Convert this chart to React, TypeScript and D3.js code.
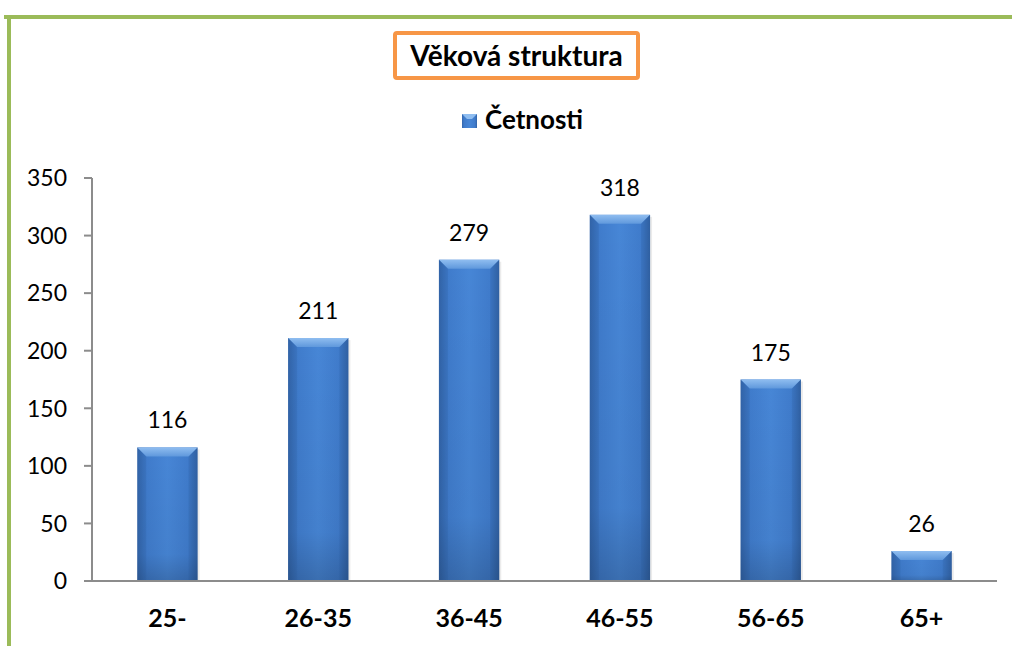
import React from "react";
import * as d3 from "d3";

const categories = ["25-", "26-35", "36-45", "46-55", "56-65", "65+"];
const values = [116, 211, 279, 318, 175, 26];
const yTicks = [0, 50, 100, 150, 200, 250, 300, 350];
const title = "Věková struktura";
const seriesName = "Četnosti";

const W = 1012, H = 646;
const FONT = "Lato, 'Open Sans', sans-serif";

export default function App() {
  const x0 = 92, x1 = 997, yTop = 178, yBase = 581;
  const x = d3.scaleBand<string>().domain(categories).range([x0, x1]).paddingInner(0.6).paddingOuter(0.3);
  const y = d3.scaleLinear().domain([0, 350]).range([yBase, yTop]);
  const bw = x.bandwidth();
  const bevel = 9;
  return (
    <svg width={W} height={H} style={{ position: "absolute", left: 0, top: 0, display: "block" }}>
      <defs>
        <linearGradient id="barG" x1="0" x2="1" y1="0" y2="0">
          <stop offset="0" stopColor="#3467ad" />
          <stop offset="0.14" stopColor="#3f7bcb" />
          <stop offset="0.5" stopColor="#4786d6" />
          <stop offset="0.86" stopColor="#3f7bcb" />
          <stop offset="1" stopColor="#3263a6" />
        </linearGradient>
        <linearGradient id="barV" x1="0" x2="0" y1="0" y2="1">
          <stop offset="0" stopColor="#000" stopOpacity="0" />
          <stop offset="0.8" stopColor="#000" stopOpacity="0.04" />
          <stop offset="1" stopColor="#000" stopOpacity="0.18" />
        </linearGradient>
        <linearGradient id="topG" x1="0" x2="0" y1="0" y2="1">
          <stop offset="0" stopColor="#8fbdf0" />
          <stop offset="1" stopColor="#5f98dc" />
        </linearGradient>
      </defs>
      <rect x={0} y={0} width={W} height={H} fill="#fff" />
      <line x1={4} x2={W} y1={17} y2={17} stroke="#9bbb59" strokeWidth={4} />
      <line x1={9} x2={9} y1={15} y2={H} stroke="#9bbb59" strokeWidth={4} />
      {/* title */}
      <rect x={395} y={33} width={243} height={45} fill="#fff" stroke="#f79646" strokeWidth={4} rx={2} />
      <text x={516.5} y={66} textAnchor="middle" fontFamily={FONT} fontWeight="bold" fontSize={28} fill="#000">{title}</text>
      {/* legend */}
      <rect x={462} y={114} width={15} height={14} fill="url(#barG)" />
      <path d={`M462,114 L477,114 L472,119 L467,119 Z`} fill="#8fbdf0" />
      <text x={485} y={129} fontFamily={FONT} fontWeight="bold" fontSize={26} fill="#000">{seriesName}</text>
      {/* y axis */}
      <line x1={x0} x2={x0} y1={yTop} y2={yBase} stroke="#8c8c8c" strokeWidth={2} />
      {yTicks.map((t) => (
        <g key={t}>
          <line x1={x0 - 8} x2={x0} y1={y(t)} y2={y(t)} stroke="#8c8c8c" strokeWidth={2} />
          <text x={67} y={y(t)} dy="0.36em" textAnchor="end" fontFamily={FONT} fontSize={23} fill="#000">{t}</text>
        </g>
      ))}
      {/* bars */}
      {categories.map((c, i) => {
        const bx = x(c)!;
        const by = y(values[i]);
        const h = yBase - by;
        return (
          <g key={c}>
            <rect x={bx + 2} y={by + 2} width={bw} height={h - 2} fill="#000" opacity={0.08} />
            <rect x={bx} y={by} width={bw} height={h} fill="url(#barG)" />
            <rect x={bx} y={by} width={bw} height={h} fill="url(#barV)" />
            <path d={`M${bx},${by} L${bx + bw},${by} L${bx + bw - bevel},${by + bevel} L${bx + bevel},${by + bevel} Z`} fill="url(#topG)" />
            <path d={`M${bx},${by} L${bx + bevel},${by + bevel} L${bx + bevel},${yBase} L${bx},${yBase} Z`} fill="#2a5793" opacity={0.2} />
            <path d={`M${bx + bw},${by} L${bx + bw - bevel},${by + bevel} L${bx + bw - bevel},${yBase} L${bx + bw},${yBase} Z`} fill="#2a5793" opacity={0.2} />
            <text x={bx + bw / 2} y={by - 19} textAnchor="middle" fontFamily={FONT} fontSize={23} fill="#000">{values[i]}</text>
            <text x={bx + bw / 2} y={627} textAnchor="middle" fontFamily={FONT} fontWeight="bold" fontSize={25} fill="#000">{c}</text>
          </g>
        );
      })}
      {/* x axis */}
      <line x1={x0 - 8} x2={x1} y1={yBase} y2={yBase} stroke="#8c8c8c" strokeWidth={2} />
    </svg>
  );
}
